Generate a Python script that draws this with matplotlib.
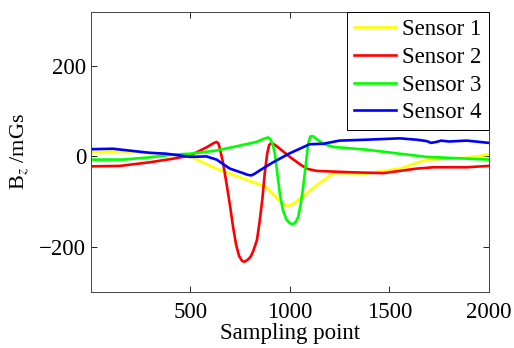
import matplotlib
matplotlib.use("Agg")
import matplotlib.pyplot as plt

plt.rcParams['font.family'] = ['Liberation Serif', 'DejaVu Serif']
plt.rcParams['mathtext.fontset'] = 'stix'

# sampled traces of the vertical field component for each sensor
s1_x = [1, 150, 300, 500, 630, 815, 880, 930, 960, 990, 1020, 1050, 1135, 1218, 1385, 1553, 1687, 1888, 2000]
s1_y = [10, 11, 8, 0, -27, -57, -68, -90, -104, -110, -104, -94, -64, -37, -38, -27, -7, -3, 4]

s2_x = [1, 146, 296, 414, 500, 581, 620, 632, 642, 650, 665, 682, 700, 715, 730, 745, 758,
        768, 778, 790, 803, 816, 835, 849, 862, 874, 886, 896, 908, 930, 950, 1000, 1050,
        1084, 1134, 1302, 1470, 1637, 1722, 1889, 2000]
s2_y = [-22, -21, -13, -5, 2, 20, 30, 32, 28, 15, -15, -60, -110, -156, -195, -220, -230,
        -233, -232, -228, -222, -210, -185, -142, -95, -38, 5, 25, 30, 24, 17, -1, -17,
        -27, -32, -35, -37, -27, -24, -24, -21]

s3_x = [1, 162, 296, 414, 500, 632, 749, 832, 870, 890, 903, 915, 925, 938, 950, 965, 983,
        1000, 1017, 1030, 1042, 1055, 1067, 1080, 1092, 1103, 1115, 1130, 1168, 1218, 1385,
        1553, 1687, 2000]
s3_y = [-7, -7, -2, 4, 6, 13, 24, 32, 39, 42, 38, 25, 6, -40, -83, -118, -140,
        -148, -150, -145, -134, -105, -68, -20, 28, 44, 45, 40, 28, 21, 15,
        6, -1, -7]

s4_x = [1, 112, 213, 296, 380, 500, 581, 632, 665, 699, 765, 790, 807, 825, 849, 916, 1000,
        1100, 1168, 1250, 1385, 1553, 1637, 1687, 1710, 1737, 1760, 1800, 1889, 2000]
s4_y = [16, 17, 12, 8, 6, -1, 0, -7, -17, -27, -37, -41, -42, -38, -31, -13, 7,
        27, 28, 35, 37, 40, 37, 34, 30, 32, 35, 33, 35, 30]

labels = ['Sensor 1', 'Sensor 2', 'Sensor 3', 'Sensor 4']
colors = ['#ffff00', '#ff0000', '#00ff00', '#0000ff']

fig = plt.figure(figsize=(5.14, 3.48), dpi=100)
ax = fig.add_axes([0.177, 0.161, 0.774, 0.805])

for xs, ys, lab, c in zip([s1_x, s2_x, s3_x, s4_x], [s1_y, s2_y, s3_y, s4_y], labels, colors):
    ax.plot(xs, ys, color=c, lw=1.9, label=lab)

ax.set_xlim(1, 2000)
ax.set_ylim(-300, 320)
ax.set_xticks([500, 1000, 1500, 2000])
ax.set_yticks([-200, 0, 200])
ax.tick_params(direction='in', top=True, right=True, labelsize=16.5, length=4, width=0.6)
ax.tick_params(axis='x', pad=7)
for sp in ax.spines.values():
    sp.set_linewidth(0.7)
    sp.set_color('#444444')

ax.set_xlabel('Sampling point', fontsize=16.5, labelpad=0)
ax.set_ylabel(r'B$_z$ /mGs', fontsize=16, labelpad=6)

leg = ax.legend(loc='upper right', fontsize=16.5, fancybox=False, framealpha=1,
                edgecolor='black', borderaxespad=0, handlelength=1.8,
                labelspacing=0.3, borderpad=0.3, handletextpad=0.3)
leg.get_frame().set_linewidth(0.7)

fig.savefig('out.png', dpi=100)
